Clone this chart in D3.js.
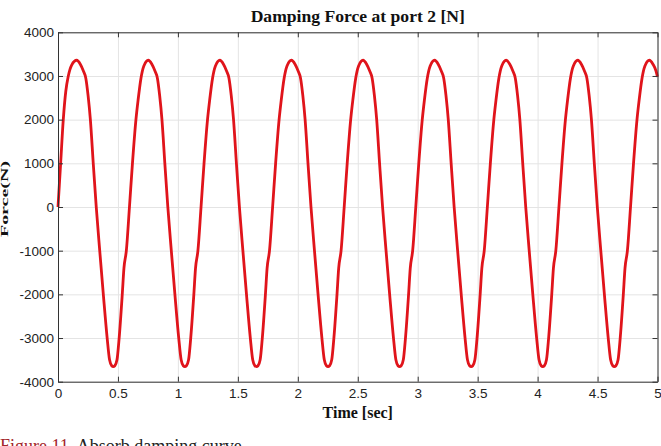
<!DOCTYPE html>
<html>
<head>
<meta charset="utf-8">
<script src="https://cdn.jsdelivr.net/npm/d3@7/dist/d3.min.js"></script>
<style>
  html, body { margin: 0; padding: 0; background: #fff; }
  svg { display: block; }
</style>
</head>
<body>
<svg id="chart" width="661" height="446"></svg>
<script>
// ---- data ----
const chartTitle = "Damping Force at port 2 [N]";
const xLabel = "Time [sec]";
const yLabel = "Force(N)";
const captionLead = "Figure 11.";
const captionText = " Absorb damping curve.";

const xTicks = [0, 0.5, 1, 1.5, 2, 2.5, 3, 3.5, 4, 4.5, 5];
const xTickLabels = ["0", "0.5", "1", "1.5", "2", "2.5", "3", "3.5", "4", "4.5", "5"];
const yTicks = [-4000, -3000, -2000, -1000, 0, 1000, 2000, 3000, 4000];
const yTickLabels = ["-4000", "-3000", "-2000", "-1000", "0", "1000", "2000", "3000", "4000"];

const time = [
  0.000, 0.022, 0.044, 0.065, 0.086, 0.114,
  0.156, 0.186, 0.211, 0.232, 0.251, 0.270, 0.294, 0.319, 0.348, 0.378, 0.410, 0.430, 0.448, 0.461, 0.474, 0.492, 0.510, 0.536, 0.550, 0.570, 0.596, 0.621, 0.650, 0.668, 0.692, 0.716,
  0.753, 0.783, 0.808, 0.829, 0.848, 0.867, 0.891, 0.916, 0.945, 0.975, 1.007, 1.027, 1.045, 1.058, 1.071, 1.089, 1.107, 1.133, 1.147, 1.167, 1.193, 1.218, 1.247, 1.265, 1.289, 1.313,
  1.350, 1.380, 1.405, 1.426, 1.445, 1.464, 1.488, 1.513, 1.542, 1.572, 1.604, 1.624, 1.642, 1.655, 1.668, 1.686, 1.704, 1.730, 1.744, 1.764, 1.790, 1.815, 1.844, 1.862, 1.886, 1.910,
  1.947, 1.977, 2.002, 2.023, 2.042, 2.061, 2.085, 2.110, 2.139, 2.169, 2.201, 2.221, 2.239, 2.252, 2.265, 2.283, 2.301, 2.327, 2.341, 2.361, 2.387, 2.412, 2.441, 2.459, 2.483, 2.507,
  2.544, 2.574, 2.599, 2.620, 2.639, 2.658, 2.682, 2.707, 2.736, 2.766, 2.798, 2.818, 2.836, 2.849, 2.862, 2.880, 2.898, 2.924, 2.938, 2.958, 2.984, 3.009, 3.038, 3.056, 3.080, 3.104,
  3.141, 3.171, 3.196, 3.217, 3.236, 3.255, 3.279, 3.304, 3.333, 3.363, 3.395, 3.415, 3.433, 3.446, 3.459, 3.477, 3.495, 3.521, 3.535, 3.555, 3.581, 3.606, 3.635, 3.653, 3.677, 3.701,
  3.738, 3.768, 3.793, 3.814, 3.833, 3.852, 3.876, 3.901, 3.930, 3.960, 3.992, 4.012, 4.030, 4.043, 4.056, 4.074, 4.092, 4.118, 4.132, 4.152, 4.178, 4.203, 4.232, 4.250, 4.274, 4.298,
  4.335, 4.365, 4.390, 4.411, 4.430, 4.449, 4.473, 4.498, 4.527, 4.557, 4.589, 4.609, 4.627, 4.640, 4.653, 4.671, 4.689, 4.715, 4.729, 4.749, 4.775, 4.800, 4.829, 4.847, 4.871, 4.895,
  4.932, 4.962, 4.987, 5.000
];

const force = [
  0, 1000, 2000, 2650, 3000, 3250,
  3360, 3270, 3120, 2950, 2550, 2000, 1000, 0, -1000, -2000, -3000, -3500, -3635, -3655, -3635, -3500, -3000, -2000, -1400, -1000, 0, 1000, 2000, 2450, 2950, 3230,
  3360, 3270, 3120, 2950, 2550, 2000, 1000, 0, -1000, -2000, -3000, -3500, -3635, -3655, -3635, -3500, -3000, -2000, -1400, -1000, 0, 1000, 2000, 2450, 2950, 3230,
  3360, 3270, 3120, 2950, 2550, 2000, 1000, 0, -1000, -2000, -3000, -3500, -3635, -3655, -3635, -3500, -3000, -2000, -1400, -1000, 0, 1000, 2000, 2450, 2950, 3230,
  3360, 3270, 3120, 2950, 2550, 2000, 1000, 0, -1000, -2000, -3000, -3500, -3635, -3655, -3635, -3500, -3000, -2000, -1400, -1000, 0, 1000, 2000, 2450, 2950, 3230,
  3360, 3270, 3120, 2950, 2550, 2000, 1000, 0, -1000, -2000, -3000, -3500, -3635, -3655, -3635, -3500, -3000, -2000, -1400, -1000, 0, 1000, 2000, 2450, 2950, 3230,
  3360, 3270, 3120, 2950, 2550, 2000, 1000, 0, -1000, -2000, -3000, -3500, -3635, -3655, -3635, -3500, -3000, -2000, -1400, -1000, 0, 1000, 2000, 2450, 2950, 3230,
  3360, 3270, 3120, 2950, 2550, 2000, 1000, 0, -1000, -2000, -3000, -3500, -3635, -3655, -3635, -3500, -3000, -2000, -1400, -1000, 0, 1000, 2000, 2450, 2950, 3230,
  3360, 3270, 3120, 2950, 2550, 2000, 1000, 0, -1000, -2000, -3000, -3500, -3635, -3655, -3635, -3500, -3000, -2000, -1400, -1000, 0, 1000, 2000, 2450, 2950, 3230,
  3360, 3270, 3120, 2980
];

// ---- layout ----
const svg = d3.select("#chart");
const plot = { left: 58, right: 657.5, top: 32.3, bottom: 381.7 };
const W = plot.right - plot.left, H = plot.bottom - plot.top;

const x = d3.scaleLinear().domain([0, 5]).range([plot.left, plot.right]);
const y = d3.scaleLinear().domain([-4000, 4000]).range([plot.bottom, plot.top]);

const axisColor = "#333";
const gridColor = "#e4e4e4";
const tickFont = "'Liberation Sans', Arial, sans-serif";
const serif = "'Liberation Serif', 'Times New Roman', serif";

// grid
svg.append("g")
  .attr("transform", `translate(0,${plot.bottom})`)
  .call(d3.axisBottom(x).tickValues(xTicks).tickSize(-H).tickFormat(""))
  .call(g => g.select(".domain").remove())
  .call(g => g.selectAll("line").attr("stroke", gridColor).attr("stroke-width", 1));
svg.append("g")
  .attr("transform", `translate(${plot.left},0)`)
  .call(d3.axisLeft(y).tickValues(yTicks).tickSize(-W).tickFormat(""))
  .call(g => g.select(".domain").remove())
  .call(g => g.selectAll("line").attr("stroke", gridColor).attr("stroke-width", 1));

// data line
const pts = time.map((t, i) => [t, force[i]]);
svg.append("path")
  .datum(pts)
  .attr("fill", "none")
  .attr("stroke", "#e0141b")
  .attr("stroke-width", 2.8)
  .attr("stroke-linejoin", "round")
  .attr("d", d3.line().x(d => x(d[0])).y(d => y(d[1])).curve(d3.curveMonotoneX));

// axes (box with inward ticks)
const tickLen = 5;
function styleAxis(g) {
  g.select(".domain").attr("stroke", axisColor).attr("stroke-width", 1);
  g.selectAll(".tick line").attr("stroke", axisColor);
  g.selectAll(".tick text").attr("fill", "#222").style("font-family", tickFont).style("font-size", "13.5px");
}
svg.append("g")
  .attr("transform", `translate(0,${plot.bottom})`)
  .call(d3.axisBottom(x).tickValues(xTicks).tickSizeInner(-tickLen).tickSizeOuter(0).tickPadding(7)
    .tickFormat((d, i) => xTickLabels[i]))
  .call(styleAxis);
svg.append("g")
  .attr("transform", `translate(0,${plot.top})`)
  .call(d3.axisTop(x).tickValues(xTicks).tickSizeInner(-tickLen).tickSizeOuter(0).tickFormat(""))
  .call(styleAxis);
svg.append("g")
  .attr("transform", `translate(${plot.left},0)`)
  .call(d3.axisLeft(y).tickValues(yTicks).tickSizeInner(-tickLen).tickSizeOuter(0).tickPadding(4)
    .tickFormat((d, i) => yTickLabels[i]))
  .call(styleAxis);
svg.append("g")
  .attr("transform", `translate(${plot.right},0)`)
  .call(d3.axisRight(y).tickValues(yTicks).tickSizeInner(-tickLen).tickSizeOuter(0).tickFormat(""))
  .call(styleAxis);

// titles
svg.append("text")
  .attr("x", (plot.left + plot.right) / 2).attr("y", 22)
  .attr("text-anchor", "middle")
  .style("font-family", serif).style("font-weight", "bold").style("font-size", "17.6px")
  .attr("fill", "#111")
  .text(chartTitle);
svg.append("text")
  .attr("x", (plot.left + plot.right) / 2).attr("y", 418)
  .attr("text-anchor", "middle")
  .style("font-family", serif).style("font-weight", "bold").style("font-size", "16px")
  .attr("fill", "#111")
  .text(xLabel);
// y label: squeezed so it fits next to the left edge, as in the reference
svg.append("text")
  .attr("transform", `translate(8,199) rotate(-90) scale(1.25,0.62)`)
  .attr("text-anchor", "middle")
  .style("font-family", serif).style("font-weight", "bold").style("font-size", "16px")
  .attr("fill", "#111")
  .text(yLabel);

// caption (cut off at the bottom edge, as in the reference)
const cap = svg.append("text")
  .attr("x", 0).attr("y", 452)
  .style("font-family", serif).style("font-size", "18px");
cap.append("tspan").attr("fill", "#a3262b").text(captionLead);
cap.append("tspan").attr("fill", "#222").text(captionText);
</script>
</body>
</html>
